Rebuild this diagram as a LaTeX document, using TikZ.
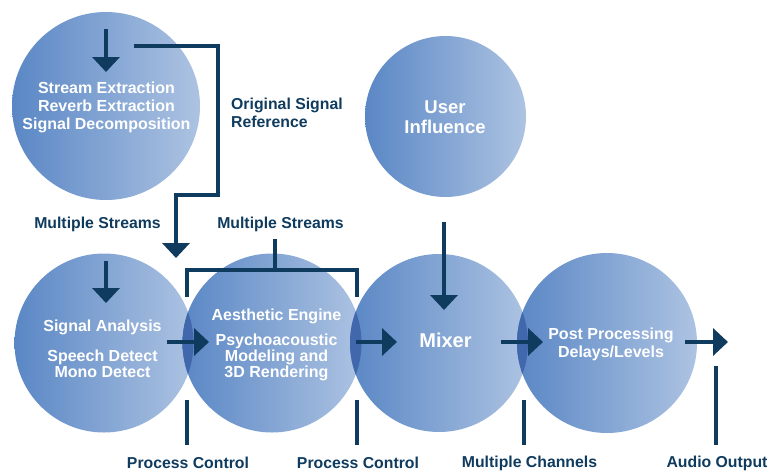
\documentclass[tikz,border=0pt]{standalone}
\usepackage{fontspec}
\setmainfont{Liberation Sans}
\usetikzlibrary{arrows.meta}
\definecolor{navy}{HTML}{0F3B5E}
\definecolor{discL}{HTML}{5A87C5}
\definecolor{discR}{HTML}{ADC3E2}
\definecolor{lensC}{HTML}{4167AC}
\begin{document}
\begin{tikzpicture}[x=1pt,y=-1pt,
  disc/.style={circle,inner sep=0pt,minimum size=#1,left color=discL,right color=discR},
  intext/.style={text=white,font=\bfseries\fontsize{16}{18}\selectfont,align=center,inner sep=0pt},
  lbl/.style={text=navy,font=\bfseries\fontsize{15.8}{18}\selectfont,align=center,inner sep=0pt},
  wire/.style={draw=navy,line width=4.5pt,line join=miter},
  flow/.style={wire,-{Triangle[width=27pt,length=15pt]}}
]
\useasboundingbox (0,0) rectangle (768,472);

% discs
\node[disc=188pt] (src) at (106,106) {};
\node[disc=161pt] (usr) at (445.5,116.5) {};
\node[disc=179pt] (ana) at (104,343) {};
\node[disc=179pt] (aes) at (272,343) {};
\node[disc=178pt] (mix) at (439,343) {};
\node[disc=180pt] (post) at (607,343) {};

% darker overlap lenses
\begin{scope}\clip (ana) circle[radius=89.5pt]; \fill[lensC] (aes) circle[radius=89.5pt];\end{scope}
\begin{scope}\clip (aes) circle[radius=89.5pt]; \fill[lensC] (mix) circle[radius=89pt];\end{scope}
\begin{scope}\clip (mix) circle[radius=89pt]; \fill[lensC] (post) circle[radius=90pt];\end{scope}

% texts inside discs
\node[intext] (srcT) at (106.5,107) {Stream Extraction\\Reverb Extraction\\Signal Decomposition};
\node[intext,font=\bfseries\fontsize{18.5}{20}\selectfont] (usrT) at (445,117.5) {User\\Influence};
\node[intext] (anaT1) at (102.5,327) {Signal Analysis};
\node[intext,font=\bfseries\fontsize{16}{16}\selectfont] (anaT2) at (102.5,364) {Speech Detect\\Mono Detect};
\node[intext] (aesT1) at (276.5,316) {Aesthetic Engine};
\node[intext,font=\bfseries\fontsize{16}{15.8}\selectfont] (aesT2) at (276.5,357.5) {Psychoacoustic\\Modeling and\\3D Rendering};
\node[intext,font=\bfseries\fontsize{20}{22}\selectfont] (mixT) at (445.5,340) {Mixer};
\node[intext] (postT) at (611,344) {Post Processing\\Delays/Levels};

% outside labels
\node[lbl,align=left,anchor=west] (orig) at (231,113) {Original Signal\\Reference};
\node[lbl] (ms1) at (97.5,224) {Multiple Streams};
\node[lbl] (ms2) at (280.5,224) {Multiple Streams};
\node[lbl] (pc1) at (188,463) {Process Control};
\node[lbl] (pc2) at (358,463) {Process Control};
\node[lbl] (mc) at (529.5,463) {Multiple Channels};
\node[lbl] (ao) at (717,463) {Audio Output};

% connector end points
\coordinate (srcIn) at (106,29);   \coordinate (srcInEnd) at (106,72);
\coordinate (refA) at (134,46);    \coordinate (refB) at (176,258);
\coordinate (brTop) at (275,239);  \coordinate (brMid) at (275,270);
\coordinate (brL) at (187,297);    \coordinate (brR) at (357,297);
\coordinate (anaIn) at (106,261);  \coordinate (anaInEnd) at (106,303);
\coordinate (usrOut) at (444,222); \coordinate (mixIn) at (444,310);
\coordinate (f1a) at (167,342);    \coordinate (f1b) at (209,342);
\coordinate (f2a) at (356,342);    \coordinate (f2b) at (397,342);
\coordinate (f3a) at (501,342);    \coordinate (f3b) at (543,342);
\coordinate (f4a) at (685,342);    \coordinate (f4b) at (728,342);
\coordinate (pc1a) at (187,400);   \coordinate (pc1b) at (187,445);
\coordinate (pc2a) at (357,400);   \coordinate (pc2b) at (357,445);
\coordinate (mca) at (524,400);    \coordinate (mcb) at (524,445);
\coordinate (aoa) at (716,366);    \coordinate (aob) at (716,445);

% connectors
\draw[flow] (srcIn) -- (srcInEnd);
\draw[flow] (refA) -| (218,195) -| (refB);
\draw[wire] (brTop) -- (brMid);
\draw[wire] (brL) |- (brMid) -| (brR);
\draw[flow] (anaIn) -- (anaInEnd);
\draw[flow] (usrOut) -- (mixIn);
\draw[flow] (f1a) -- (f1b);
\draw[flow] (f2a) -- (f2b);
\draw[flow] (f3a) -- (f3b);
\draw[flow] (f4a) -- (f4b);
\draw[wire] (pc1a) -- (pc1b);
\draw[wire] (pc2a) -- (pc2b);
\draw[wire] (mca) -- (mcb);
\draw[wire] (aoa) -- (aob);
\end{tikzpicture}
\end{document}
